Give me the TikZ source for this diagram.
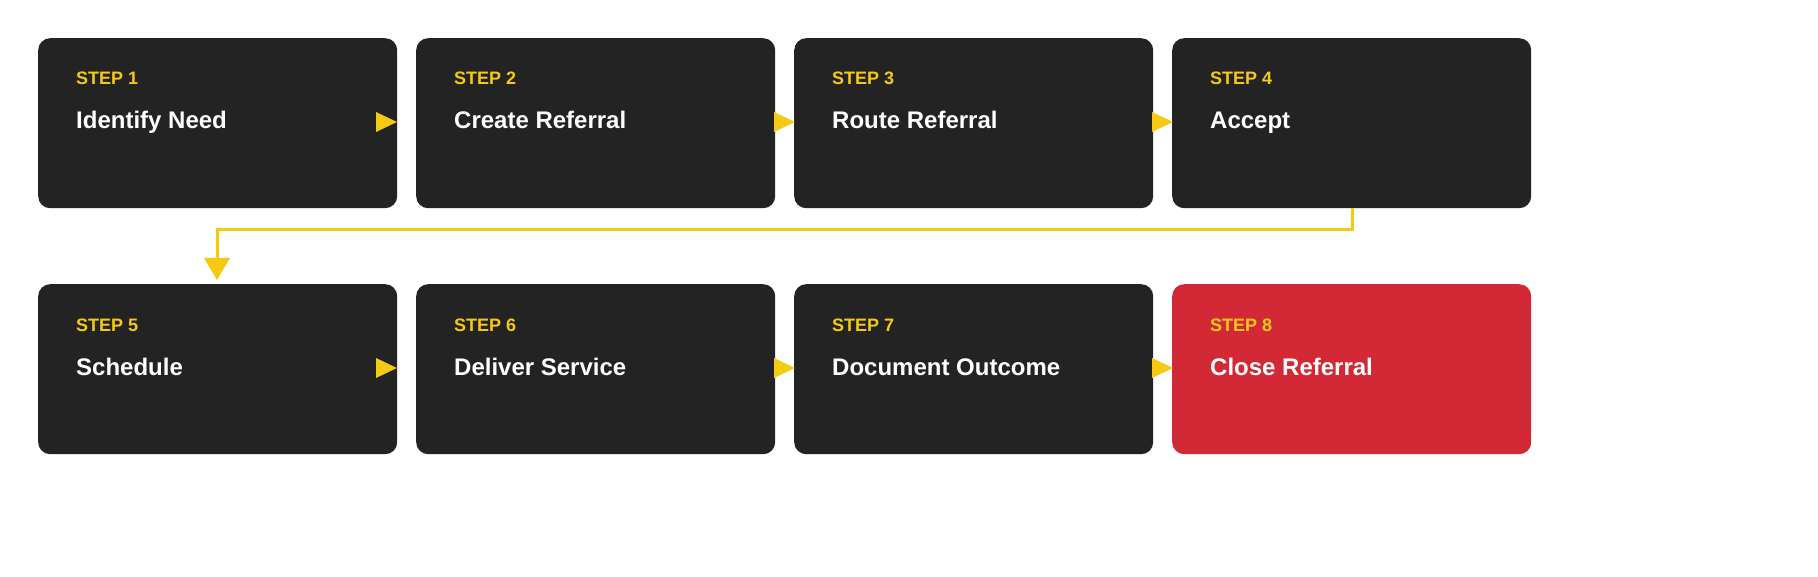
\documentclass[tikz,border=0pt]{standalone}
\usepackage{fontspec}
\setmainfont{Liberation Sans}
\usetikzlibrary{positioning}
\definecolor{boxdark}{HTML}{232323}
\definecolor{boxred}{HTML}{D32936}
\definecolor{stepyellow}{HTML}{F6C915}
\tikzset{
  stepbox/.style={draw=none,fill=boxdark,rounded corners=12pt,minimum width=359pt,minimum height=170pt,inner sep=0pt},
  steplbl/.style={anchor=base west,text=stepyellow,font=\fontsize{18}{20}\selectfont\bfseries,inner sep=0pt},
  steptitle/.style={anchor=base west,text=white,font=\fontsize{24}{26}\selectfont\bfseries,inner sep=0pt},
  tri/.style={fill=stepyellow,draw=none}
}
\begin{document}
\begin{tikzpicture}[x=1pt,y=-1pt]
\useasboundingbox (0,0) rectangle (1818,577);
% boxes
\foreach \i/\x/\y/\t/\c in {1/38/38/Identify Need/boxdark,2/416/38/Create Referral/boxdark,3/794/38/Route Referral/boxdark,4/1172/38/Accept/boxdark,
  5/38/284/Schedule/boxdark,6/416/284/Deliver Service/boxdark,7/794/284/Document Outcome/boxdark,8/1172/284/Close Referral/boxred}{
  \node[stepbox,fill=\c,anchor=north west] (box\i) at (\x,\y) {};
  \node[steplbl] (lbl\i) at (\x+38,\y+47) {STEP \i};
  \node[steptitle] (ttl\i) at (\x+38,\y+91) {\t};
}
% arrow heads
\foreach \x/\y in {376/122,774/122,1152/122,376/368,774/368,1152/368}{
  \fill[tri] (\x,\y-10) -- (\x+21,\y) -- (\x,\y+10) -- cycle;
}
% wrap connector
\coordinate (tipwrap) at (217,258);
\draw[stepyellow,line width=3pt] (box4.south -| 1352,0) -- (1352,230) -- (217,230) -- (tipwrap);
\fill[tri] (204,258) -- (230,258) -- (217,280) -- cycle;
\end{tikzpicture}
\end{document}
